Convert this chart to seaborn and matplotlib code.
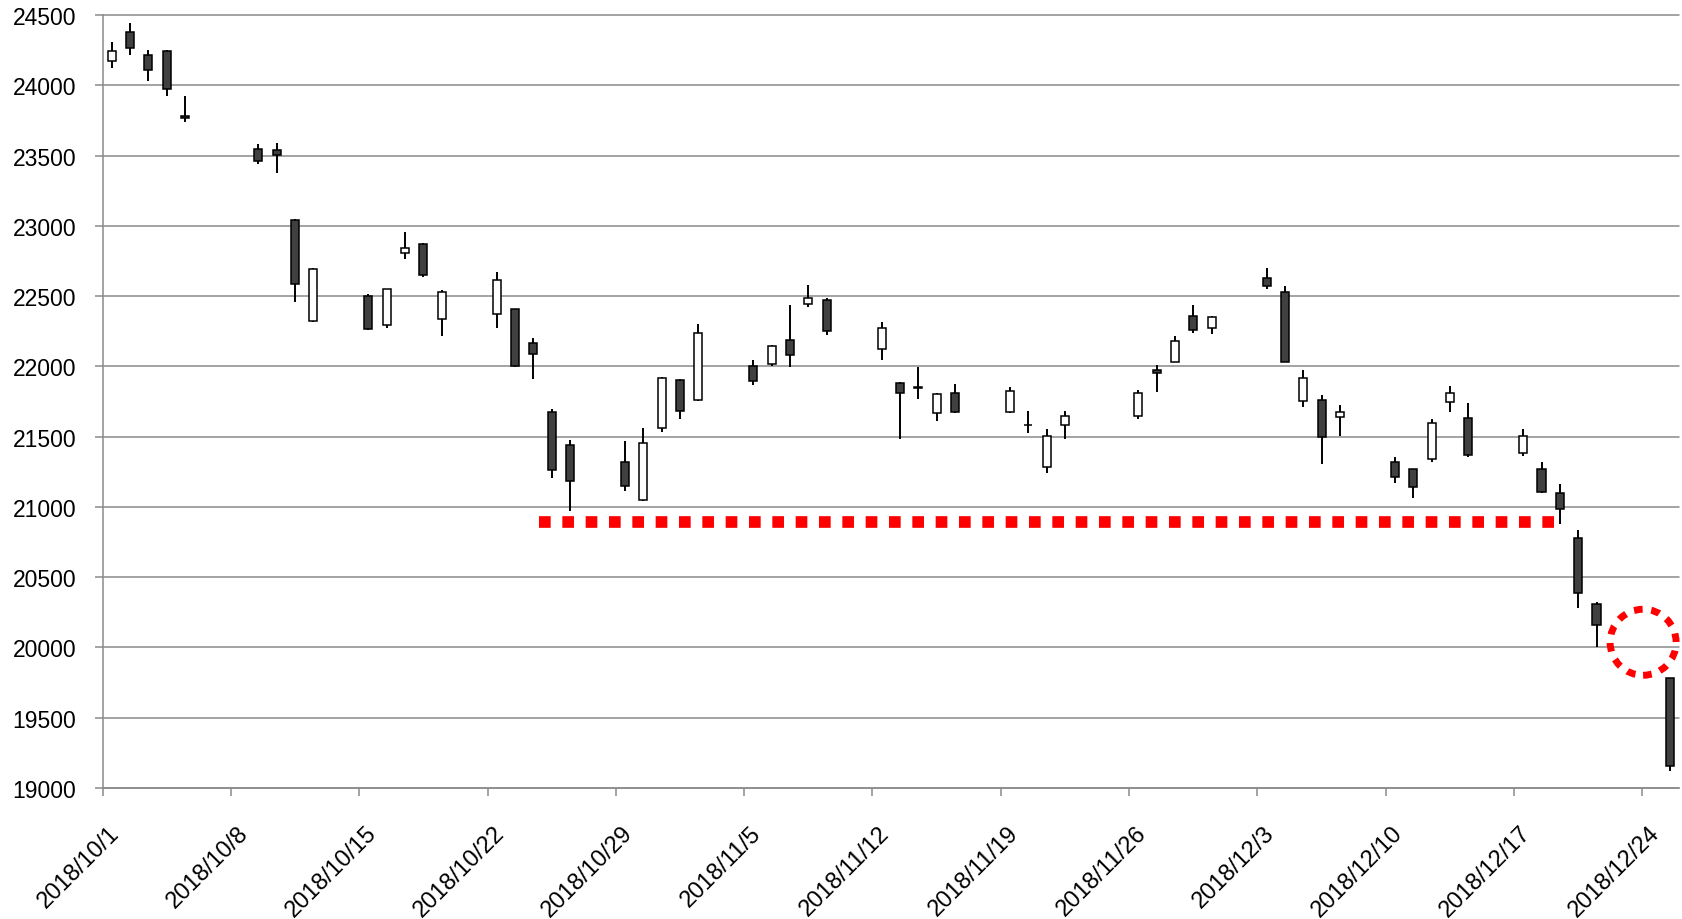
import matplotlib
matplotlib.use("Agg")
import matplotlib.pyplot as plt
from matplotlib.patches import Ellipse
from matplotlib.transforms import ScaledTranslation
import seaborn as sns
import pandas as pd
import numpy as np

# ---- data ----
dates = ["2018-10-01", "2018-10-02", "2018-10-03", "2018-10-04", "2018-10-05",
         "2018-10-09", "2018-10-10", "2018-10-11", "2018-10-12",
         "2018-10-15", "2018-10-16", "2018-10-17", "2018-10-18", "2018-10-19",
         "2018-10-22", "2018-10-23", "2018-10-24", "2018-10-25", "2018-10-26",
         "2018-10-29", "2018-10-30", "2018-10-31", "2018-11-01", "2018-11-02",
         "2018-11-05", "2018-11-06", "2018-11-07", "2018-11-08", "2018-11-09",
         "2018-11-12", "2018-11-13", "2018-11-14", "2018-11-15", "2018-11-16",
         "2018-11-19", "2018-11-20", "2018-11-21", "2018-11-22",
         "2018-11-26", "2018-11-27", "2018-11-28", "2018-11-29", "2018-11-30",
         "2018-12-03", "2018-12-04", "2018-12-05", "2018-12-06", "2018-12-07",
         "2018-12-10", "2018-12-11", "2018-12-12", "2018-12-13", "2018-12-14",
         "2018-12-17", "2018-12-18", "2018-12-19", "2018-12-20", "2018-12-21",
         "2018-12-25"]
opens = [24170, 24377, 24217, 24242, 23778,
         23548, 23539, 23043, 22320,
         22500, 22294, 22804, 22870, 22336,
         22372, 22405, 22168, 21675, 21440,
         21321, 21046, 21565, 21905, 21758,
         22002, 22014, 22189, 22443, 22469,
         22121, 21883, 21852, 21670, 21807,
         21672, 21584, 21281, 21580,
         21644, 21973, 22033, 22360, 22272,
         22631, 22531, 21750, 21763, 21638,
         21317, 21269, 21340, 21748, 21635,
         21386, 21272, 21101, 20778, 20308,
         19781]
highs = [24306, 24443, 24253, 24248, 23926,
         23582, 23587, 23048, 22702,
         22512, 22552, 22953, 22880, 22543,
         22669, 22410, 22204, 21696, 21475,
         21466, 21563, 21922, 21908, 22303,
         22047, 22149, 22438, 22578, 22484,
         22317, 21886, 21993, 21812, 21871,
         21850, 21684, 21551, 21679,
         21833, 22009, 22213, 22434, 22355,
         22697, 22569, 21971, 21798, 21727,
         21358, 21272, 21625, 21860, 21742,
         21557, 21320, 21162, 20837, 20323,
         19785]
lows = [24121, 24215, 24028, 23921, 23736,
        23440, 23373, 22460, 22318,
        22262, 22270, 22763, 22637, 22213,
        22270, 21997, 21909, 21205, 20972,
        21110, 21039, 21530, 21627, 21750,
        21864, 22004, 21997, 22419, 22225,
        22047, 21485, 21767, 21613, 21667,
        21665, 21527, 21243, 21485,
        21622, 21815, 22028, 22239, 22230,
        22550, 22028, 21709, 21305, 21501,
        21167, 21063, 21320, 21674, 21353,
        21363, 21099, 20878, 20282, 20000,
        19118]
closes = [24242, 24265, 24109, 23971, 23770,
          23463, 23501, 22585, 22692,
          22265, 22548, 22840, 22649, 22531,
          22612, 22002, 22085, 21266, 21181,
          21148, 21456, 21919, 21684, 22239,
          21895, 22147, 22083, 22484, 22249,
          22270, 21807, 21848, 21803, 21675,
          21822, 21580, 21504, 21644,
          21812, 21952, 22177, 22261, 22351,
          22569, 22030, 21918, 21498, 21673,
          21216, 21145, 21600, 21809, 21368,
          21503, 21106, 20982, 20389, 20163,
          19156]

tick_dates = ["2018-10-01", "2018-10-08", "2018-10-15", "2018-10-22", "2018-10-29",
              "2018-11-05", "2018-11-12", "2018-11-19", "2018-11-26", "2018-12-03",
              "2018-12-10", "2018-12-17", "2018-12-24"]
tick_labels = ["2018/10/1", "2018/10/8", "2018/10/15", "2018/10/22", "2018/10/29",
               "2018/11/5", "2018/11/12", "2018/11/19", "2018/11/26", "2018/12/3",
               "2018/12/10", "2018/12/17", "2018/12/24"]
y_ticks = list(range(19000, 24501, 500))

# annotation: support level line and highlight circle
support_level = 20895
support_start = "2018-10-24 19:30"
support_end = "2018-12-19 04:30"
circle_center_date = "2018-12-24 01:00"
circle_center_value = 20037

# ---- build frame ----
df = pd.DataFrame({"date": pd.to_datetime(dates), "open": opens, "high": highs,
                   "low": lows, "close": closes})
origin = pd.Timestamp("2018-10-01")
def day_num(s):
    return (pd.Timestamp(s) - origin) / pd.Timedelta(days=1)
df["x"] = (df["date"] - origin).dt.days + 0.5
df["up"] = df["close"] >= df["open"]

sns.set_theme(style="white")
plt.rcParams["font.family"] = ["Liberation Sans", "DejaVu Sans"]

fig = plt.figure(figsize=(16.82, 9.2), dpi=100)
ax = fig.add_axes([102.6 / 1682, 1 - 789 / 920, (1679 - 102.6) / 1682, (789 - 16) / 920])

grid_c = "#8a8a8a"
ax.set_ylim(19000, 24500)
ax.set_xlim(0, 86)
ax.set_yticks(y_ticks)
ax.set_yticklabels([str(v) for v in y_ticks])
ax.set_xticks([day_num(d) for d in tick_dates])
ax.set_xticklabels(tick_labels, rotation=45, ha="right", rotation_mode="anchor")

for v in y_ticks:
    ax.axhline(v, color=grid_c, lw=1.1, zorder=0, clip_on=False)

for s in ["top", "right"]:
    ax.spines[s].set_visible(False)
for s in ["left", "bottom"]:
    ax.spines[s].set_color(grid_c)
    ax.spines[s].set_linewidth(1.1)

ax.tick_params(axis="y", direction="out", length=6, width=1.1, color=grid_c,
               pad=13, labelsize=16.5, labelcolor="black", left=True)
ax.tick_params(axis="x", direction="out", length=6, width=1.1, color=grid_c,
               pad=6, labelsize=17, labelcolor="black", bottom=True)

# wicks
ax.vlines(df["x"], df["low"], df["high"], color="black", lw=1.4, zorder=2)
# bodies
body_bottom = np.minimum(df["open"], df["close"])
body_h = np.maximum(np.abs(df["close"] - df["open"]), 6)
fills = np.where(df["up"], "white", "#404040")
ax.bar(df["x"], body_h, bottom=body_bottom, width=0.44, color=fills,
       edgecolor="black", linewidth=1.1, zorder=3)

# support line
sx0, sx1 = day_num(support_start), day_num(support_end)
ax.plot([sx0, sx1], [support_level, support_level], color="#ff0000", lw=8.4,
        linestyle=(0, (1, 1)), dash_capstyle="butt", solid_capstyle="butt", zorder=4)

# highlight circle
cx = day_num(circle_center_date)
circ = Ellipse((cx, circle_center_value), width=66 / 18.33, height=66 / 0.14055,
               fill=False, edgecolor="#ff0000", lw=5, linestyle=(0, (1.25, 1.25)),
               zorder=5, clip_on=False)
ax.add_patch(circ)

# shift rotated date labels down-right, as in the reference
shift = ScaledTranslation(6 / 100, -17 / 100, fig.dpi_scale_trans)
for lab in ax.get_xticklabels():
    lab.set_transform(lab.get_transform() + shift)

fig.savefig("out.png", dpi=100)
